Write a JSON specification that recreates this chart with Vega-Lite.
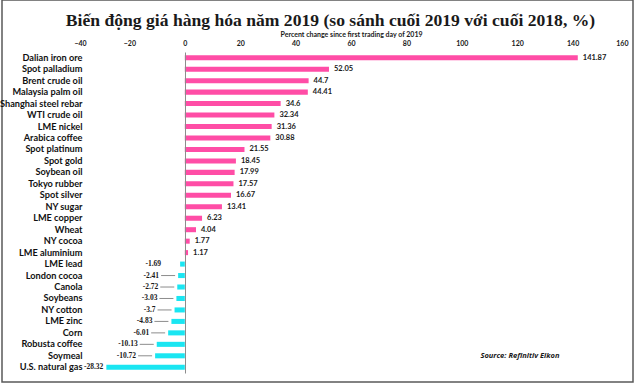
{
  "$schema": "https://vega.github.io/schema/vega-lite/v6.json",
  "autosize": {"type": "none"},
  "padding": {"left": 2, "top": 0, "right": 7, "bottom": 6},
  "width": 631,
  "height": 382,
  "background": "white",
  "config": {
    "view": {"stroke": "#595959", "strokeWidth": 1.5},
    "font": "Lato"
  },
  "title": {
    "text": "Biến động giá hàng hóa năm 2019 (so sánh cuối 2019 với cuối 2018, %)",
    "font": "Liberation Serif",
    "fontSize": 17.6,
    "fontWeight": "bold",
    "color": "#1a1a1a",
    "anchor": "middle",
    "frame": "group",
    "baseline": "alphabetic",
    "offset": -44,
    "dx": 13
  },
  "data": {
    "values": [
      {"item": "Dalian iron ore", "value": 141.87},
      {"item": "Spot palladium", "value": 52.05},
      {"item": "Brent crude oil", "value": 44.7},
      {"item": "Malaysia palm oil", "value": 44.41},
      {"item": "Shanghai steel rebar", "value": 34.6},
      {"item": "WTI crude oil", "value": 32.34},
      {"item": "LME nickel", "value": 31.36},
      {"item": "Arabica coffee", "value": 30.88},
      {"item": "Spot platinum", "value": 21.55},
      {"item": "Spot gold", "value": 18.45},
      {"item": "Soybean oil", "value": 17.99},
      {"item": "Tokyo rubber", "value": 17.57},
      {"item": "Spot silver", "value": 16.67},
      {"item": "NY sugar", "value": 13.41},
      {"item": "LME copper", "value": 6.23},
      {"item": "Wheat", "value": 4.04},
      {"item": "NY cocoa", "value": 1.77},
      {"item": "LME aluminium", "value": 1.17},
      {"item": "LME lead", "value": -1.69},
      {"item": "London cocoa", "value": -2.41},
      {"item": "Canola", "value": -2.72},
      {"item": "Soybeans", "value": -3.03},
      {"item": "NY cotton", "value": -3.7},
      {"item": "LME zinc", "value": -4.83},
      {"item": "Corn", "value": -6.01},
      {"item": "Robusta coffee", "value": -10.13},
      {"item": "Soymeal", "value": -10.72},
      {"item": "U.S. natural gas", "value": -28.32}
    ]
  },
  "encoding": {
    "y": {
      "field": "item",
      "type": "nominal",
      "sort": null,
      "scale": {"range": [52, 373], "paddingInner": 0.56, "paddingOuter": 0.28},
      "axis": {
        "title": null,
        "orient": "left",
        "offset": -183,
        "labelPadding": 103,
        "ticks": false,
        "domain": true,
        "domainColor": "#8c8c8c",
        "domainWidth": 1,
        "labelFont": "Lato",
        "labelFontSize": 9.2,
        "labelFontWeight": "bold",
        "labelColor": "#111111",
        "zindex": 1
      }
    }
  },
  "layer": [
    {
      "mark": {"type": "bar"},
      "encoding": {
        "x": {
          "field": "value",
          "type": "quantitative",
          "scale": {"domain": [-40, 160], "range": [72, 626], "nice": false, "zero": false},
          "axis": {
            "orient": "top",
            "offset": -48,
            "values": [-40, -20, 0, 20, 40, 60, 80, 100, 120, 140, 160],
            "domain": false,
            "ticks": false,
            "grid": false,
            "labelPadding": 2,
            "labelFont": "Lato",
            "labelFontSize": 7,
            "labelFontWeight": "bold",
            "labelColor": "#1a1a1a",
            "title": "Percent change since first trading day of 2019",
            "titleFont": "Lato",
            "titleFontSize": 7,
            "titleFontWeight": "bold",
            "titleColor": "#1a1a1a",
            "titlePadding": 2
          }
        },
        "color": {
          "condition": {"test": "datum.value < 0", "value": "#1AE6F2"},
          "value": "#FF4DA6"
        }
      }
    },
    {
      "transform": [{"filter": "datum.value < -2 && datum.value > -20"}],
      "mark": {"type": "rule", "color": "#8c8c8c", "strokeWidth": 1, "xOffset": -3, "x2Offset": -17},
      "encoding": {
        "x": {"field": "value", "type": "quantitative"},
        "x2": {"field": "value"}
      }
    },
    {
      "transform": [{"filter": "datum.value > 0"}],
      "mark": {"type": "text", "align": "left", "baseline": "middle", "dx": 5, "font": "Lato", "fontSize": 7.5, "fontWeight": "bold", "color": "#1a1a1a"},
      "encoding": {
        "x": {"field": "value", "type": "quantitative"},
        "text": {"field": "value", "type": "nominal"}
      }
    },
    {
      "transform": [{"filter": "datum.value < 0 && datum.value > -20"}],
      "mark": {"type": "text", "align": "right", "baseline": "middle", "dx": -19, "font": "Liberation Serif", "fontSize": 7.5, "fontWeight": "bold", "color": "#1a1a1a"},
      "encoding": {
        "x": {"field": "value", "type": "quantitative"},
        "text": {"field": "value", "type": "nominal"}
      }
    },
    {
      "transform": [{"filter": "datum.value <= -20"}],
      "mark": {"type": "text", "align": "right", "baseline": "middle", "dx": -3, "font": "Liberation Serif", "fontSize": 7.5, "fontWeight": "bold", "color": "#1a1a1a"},
      "encoding": {
        "x": {"field": "value", "type": "quantitative"},
        "text": {"field": "value", "type": "nominal"}
      }
    },
    {
      "data": {"values": [{"note": "Source: Refinitiv Eikon"}]},
      "mark": {"type": "text", "align": "center", "baseline": "middle", "font": "Open Sans", "fontSize": 7.5, "fontWeight": "bold", "fontStyle": "italic", "color": "#1a1a1a"},
      "encoding": {
        "x": {"datum": 121},
        "y": {"datum": "Soymeal"},
        "text": {"field": "note", "type": "nominal"}
      }
    }
  ]
}
